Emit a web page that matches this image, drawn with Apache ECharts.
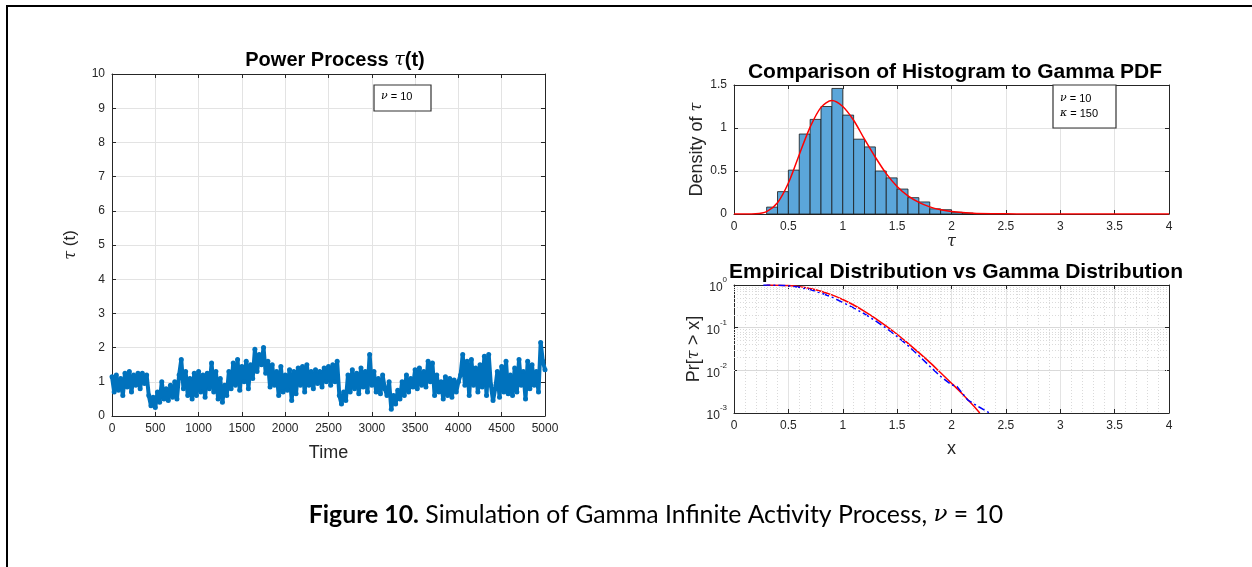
<!DOCTYPE html>
<html>
<head>
<meta charset="utf-8">
<script src="https://cdn.jsdelivr.net/npm/echarts@6/dist/echarts.min.js"></script>
<style>
  html, body { margin: 0; padding: 0; background: #fff; }
  #main { width: 1252px; height: 567px; }
</style>
</head>
<body>
<div id="main"></div>
<script>
(function () {

  // power process tau(t), one reading every 25 time units (0..5000)
  var timeStep = 25;
  var tauValues = [
    1.15, 0.7, 1.2, 0.75, 1.1,
    0.6, 1.25, 0.85, 1.3, 0.7, 1.2, 0.9, 1.25, 0.8, 1.25, 0.95, 1.2,
    0.6, 0.3, 0.55, 0.25,
    0.7, 0.4, 1.0, 0.5, 0.8, 0.45, 0.9, 0.55, 1.0, 0.5, 1.2,
    1.65, 0.8, 1.3, 0.6, 1.1, 0.5, 1.25, 0.6, 1.3,
    0.7, 1.2, 0.55, 1.25, 0.8, 1.55, 0.7, 1.3, 0.5, 1.1, 0.4, 0.9,
    0.6, 1.3, 0.8, 1.55, 0.9, 1.65, 0.75, 1.45, 1.0, 1.6, 0.8, 1.5, 1.1,
    1.95, 1.3, 1.8, 1.5, 2.0, 1.25, 1.6,
    0.85, 1.5, 0.9, 1.3, 0.6, 1.45, 0.7, 1.2,
    0.75, 1.35, 0.45, 1.3, 0.65, 1.4, 0.9, 1.45,
    0.7, 1.5, 0.9, 1.3, 0.8, 1.35, 0.95, 1.3, 0.85, 1.4, 1.0, 1.45, 0.9, 1.5, 1.0, 1.6,
    0.6, 0.35, 0.7, 0.45,
    1.2, 0.7, 1.35, 0.8, 1.25, 0.65, 1.4, 0.85, 1.3, 0.7, 1.8, 0.9,
    1.3, 0.7, 1.1, 0.65, 1.2, 0.8, 0.6, 1.0,
    0.2, 0.6, 0.35, 0.75,
    0.5, 1.0, 0.6, 1.2, 0.7, 1.1, 0.85, 1.35,
    0.8, 1.4, 0.9, 1.3, 0.85, 1.6, 1.0, 1.55,
    0.6, 1.2, 0.7, 1.0, 0.5, 1.15, 0.6, 1.1, 0.55, 1.05, 0.7, 1.0,
    1.2, 1.8, 0.9, 1.6,
    0.6, 1.65, 0.9, 1.4, 0.7, 1.5, 0.85, 1.75, 0.6, 1.8, 0.9, 0.45,
    0.8, 1.3, 0.55, 1.45, 0.7, 1.6, 0.65, 1.2,
    0.6, 1.4, 0.7, 1.65, 0.9, 1.3, 0.5, 1.6, 0.8, 1.5, 0.9, 1.3,
    0.7, 2.15, 1.6, 1.35
  ];

  // histogram of tau
  var binEdges = [0.3, 0.4, 0.5, 0.6, 0.7, 0.8, 0.9, 1.0, 1.1, 1.2, 1.3, 1.4, 1.5, 1.6, 1.7, 1.8, 1.9, 2.0, 2.1, 2.2];
  var binDensity = [0.08, 0.26, 0.51, 0.93, 1.10, 1.25, 1.46, 1.15, 0.87, 0.78, 0.50, 0.42, 0.29, 0.19, 0.14, 0.06, 0.05, 0.02, 0.01];

  // gamma pdf (red curve)
  var pdfX = [0, 0.1, 0.2, 0.3, 0.4, 0.5, 0.6, 0.7, 0.8, 0.9, 1.0, 1.1, 1.2, 1.3, 1.4, 1.5, 1.6, 1.7, 1.8, 1.9, 2.0, 2.2, 2.4, 2.6, 3.0, 4.0];
  var pdfY = [0, 0, 0.002, 0.027, 0.13, 0.36, 0.69, 1.01, 1.24, 1.32, 1.25, 1.09, 0.87, 0.66, 0.47, 0.32, 0.21, 0.135, 0.083, 0.05, 0.029, 0.009, 0.003, 0.001, 0, 0];

  // tail probabilities Pr[tau > x]
  var survX = [0.3, 0.4, 0.5, 0.6, 0.7, 0.8, 0.9, 1.0, 1.1, 1.2, 1.3, 1.4, 1.5, 1.6, 1.7, 1.8, 1.9, 2.0, 2.1, 2.2, 2.26];
  var gammaSurv = [0.999, 0.992, 0.968, 0.916, 0.83, 0.717, 0.587, 0.458, 0.34, 0.242, 0.166, 0.109, 0.07, 0.043, 0.026, 0.0154, 0.0088, 0.005, 0.0028, 0.0015, 0.001];
  var empX = [0.27, 0.4, 0.5, 0.6, 0.7, 0.8, 0.9, 1.0, 1.1, 1.2, 1.3, 1.4, 1.5, 1.6, 1.7, 1.8, 1.9, 2.0, 2.05, 2.15, 2.25, 2.35];
  var empSurv = [1.0, 0.99, 0.96, 0.89, 0.78, 0.65, 0.52, 0.39, 0.29, 0.21, 0.145, 0.097, 0.062, 0.038, 0.022, 0.0125, 0.0072, 0.0046, 0.0042, 0.002, 0.0014, 0.001];
  var logMinor = [0.002, 0.003, 0.004, 0.005, 0.006, 0.007, 0.008, 0.009,
                  0.02, 0.03, 0.04, 0.05, 0.06, 0.07, 0.08, 0.09,
                  0.2, 0.3, 0.4, 0.5, 0.6, 0.7, 0.8, 0.9];

  var font = 'Liberation Sans, Arial, sans-serif';
  var ink = '#262626';
  var gridGray = '#e3e3e3';

  function pairs(xs, ys) {
    var out = [];
    for (var i = 0; i < xs.length; i++) {
      out.push([xs[i], ys[i]]);
    }
    return out;
  }

  var tauData = [];
  for (var i = 0; i < tauValues.length; i++) {
    tauData.push([i * timeStep, tauValues[i]]);
  }

  var histData = [];
  for (var b = 0; b < binDensity.length; b++) {
    histData.push([binEdges[b], binEdges[b + 1], binDensity[b]]);
  }

  function plainNum(v) { return String(v); }

  // main axis with labels and grid
  function mainAxis(gi, pos, min, max, interval, name, nameGap, extra) {
    var ax = {
      type: 'value', gridIndex: gi, position: pos, min: min, max: max, interval: interval,
      name: name, nameLocation: 'middle', nameGap: nameGap,
      nameTextStyle: { fontFamily: font, fontSize: 18, color: ink },
      axisLine: { show: true, onZero: false, lineStyle: { color: ink, width: 1 } },
      axisTick: { show: true, inside: true, length: 4, lineStyle: { color: ink } },
      axisLabel: { fontFamily: font, fontSize: 12, color: ink, margin: 7, formatter: plainNum },
      splitLine: { show: true, lineStyle: { color: gridGray, width: 1 } }
    };
    for (var k in extra) { ax[k] = extra[k]; }
    return ax;
  }

  // mirror axis for the top / right side of the box
  function boxAxis(gi, pos, min, max, interval, extra) {
    var ax = {
      type: 'value', gridIndex: gi, position: pos, min: min, max: max, interval: interval,
      axisLine: { show: true, onZero: false, lineStyle: { color: ink, width: 1 } },
      axisTick: { show: true, inside: true, length: 4, lineStyle: { color: ink } },
      axisLabel: { show: false },
      splitLine: { show: false }
    };
    for (var k in extra) { ax[k] = extra[k]; }
    return ax;
  }

  var logLabel = {
    fontFamily: font, fontSize: 12, color: ink, margin: 7,
    formatter: function (v) {
      var e = Math.round(Math.log10(v));
      return '{b|10}{s|' + e + '}';
    },
    rich: {
      b: { fontFamily: font, fontSize: 12, color: ink, lineHeight: 18, verticalAlign: 'bottom' },
      s: { fontFamily: font, fontSize: 8, color: ink, lineHeight: 18, verticalAlign: 'top' }
    }
  };

  var minorLines = [];
  for (var m = 0; m < logMinor.length; m++) {
    minorLines.push({ yAxis: logMinor[m] });
  }

  var tauRich = { i: { fontFamily: 'DejaVu Serif', fontStyle: 'italic', fontSize: 16, color: ink } };

  var myChart = echarts.init(document.getElementById('main'), null, { renderer: 'canvas' });

  var option = {
    animation: false,
    backgroundColor: '#fff',
    title: [
      {
        text: 'Power Process {i|τ}(t)', left: 330, top: 45, textAlign: 'center',
        textStyle: { fontFamily: font, fontSize: 20, fontWeight: 'bold', color: '#000',
          rich: { i: { fontFamily: 'DejaVu Serif', fontStyle: 'italic', fontSize: 19, fontWeight: 'normal', color: '#000' } } }
      },
      {
        text: 'Comparison of Histogram to Gamma PDF', left: 950, top: 57, textAlign: 'center',
        textStyle: { fontFamily: font, fontSize: 21, fontWeight: 'bold', color: '#000' }
      },
      {
        text: 'Empirical Distribution vs Gamma Distribution', left: 951, top: 257, textAlign: 'center',
        textStyle: { fontFamily: font, fontSize: 21, fontWeight: 'bold', color: '#000' }
      },
      {
        text: '{b|Figure 10.} Simulation of Gamma Infinite Activity Process, {m|ν} = 10',
        left: 651, top: 498, textAlign: 'center',
        textStyle: { fontFamily: 'Lato, sans-serif', fontSize: 24.8, fontWeight: 'normal', color: '#000',
          rich: {
            b: { fontFamily: 'Lato, sans-serif', fontSize: 24.8, fontWeight: 'bold', color: '#000' },
            m: { fontFamily: 'DejaVu Serif', fontStyle: 'italic', fontSize: 23, color: '#000' }
          } }
      }
    ],
    grid: [
      { left: 112, top: 74, width: 433, height: 342, show: false },
      { left: 734, top: 85, width: 435, height: 129, show: false },
      { left: 734, top: 285, width: 435, height: 128, show: false }
    ],
    xAxis: [
      mainAxis(0, 'bottom', 0, 5000, 500, 'Time', 28, {}),
      boxAxis(0, 'top', 0, 5000, 500, {}),
      mainAxis(1, 'bottom', 0, 4, 0.5, 'τ', 18, {
        nameTextStyle: { fontFamily: 'DejaVu Serif', fontStyle: 'italic', fontSize: 16, color: ink }
      }),
      boxAxis(1, 'top', 0, 4, 0.5, {}),
      mainAxis(2, 'bottom', 0, 4, 0.5, 'x', 27, {
        minorTick: { show: false, splitNumber: 5 },
        minorSplitLine: { show: true, lineStyle: { color: '#dadada', type: [1, 2], width: 1 } }
      }),
      boxAxis(2, 'top', 0, 4, 0.5, {})
    ],
    yAxis: [
      mainAxis(0, 'left', 0, 10, 1, '{i|τ} (t)', 33, {
        nameTextStyle: { fontFamily: font, fontSize: 17, color: ink, rich: tauRich }
      }),
      boxAxis(0, 'right', 0, 10, 1, {}),
      mainAxis(1, 'left', 0, 1.5, 0.5, 'Density of {i|τ}', 28, {
        nameTextStyle: { fontFamily: font, fontSize: 18, color: ink, rich: tauRich }
      }),
      boxAxis(1, 'right', 0, 1.5, 0.5, {}),
      {
        type: 'log', logBase: 10, gridIndex: 2, position: 'left', min: 0.001, max: 1,
        name: 'Pr[{i|τ} > x]', nameLocation: 'middle', nameGap: 30,
        nameTextStyle: { fontFamily: font, fontSize: 18, color: ink, rich: tauRich },
        axisLine: { show: true, onZero: false, lineStyle: { color: ink, width: 1 } },
        axisTick: { show: true, inside: true, length: 4, lineStyle: { color: ink } },
        axisLabel: logLabel,
        splitLine: { show: true, lineStyle: { color: '#d9d9d9', width: 1 } }
      },
      {
        type: 'log', logBase: 10, gridIndex: 2, position: 'right', min: 0.001, max: 1,
        axisLine: { show: true, onZero: false, lineStyle: { color: ink, width: 1 } },
        axisTick: { show: true, inside: true, length: 4, lineStyle: { color: ink } },
        axisLabel: { show: false },
        splitLine: { show: false }
      }
    ],
    series: [
      {
        name: 'tau', type: 'line', xAxisIndex: 0, yAxisIndex: 0,
        data: tauData,
        showSymbol: true, showAllSymbol: true, symbol: 'circle', symbolSize: 5,
        itemStyle: { color: '#0072BD' },
        lineStyle: { color: '#0072BD', width: 4 },
        z: 3
      },
      {
        name: 'hist', type: 'custom', xAxisIndex: 2, yAxisIndex: 2,
        data: histData,
        encode: { x: [0, 1], y: 2 },
        renderItem: function (params, api) {
          var p0 = api.coord([api.value(0), api.value(2)]);
          var p1 = api.coord([api.value(1), 0]);
          return {
            type: 'rect',
            shape: { x: p0[0], y: p0[1], width: p1[0] - p0[0], height: p1[1] - p0[1] },
            style: { fill: '#5BA6DA', stroke: '#1a1a1a', lineWidth: 0.8 }
          };
        },
        z: 2
      },
      {
        name: 'pdf', type: 'line', xAxisIndex: 2, yAxisIndex: 2,
        data: pairs(pdfX, pdfY), smooth: 0.3, showSymbol: false,
        lineStyle: { color: '#ff0000', width: 1.5 },
        z: 4
      },
      {
        name: 'gamma', type: 'line', xAxisIndex: 4, yAxisIndex: 4,
        data: pairs(survX, gammaSurv), smooth: 0.3, showSymbol: false,
        lineStyle: { color: '#ff0000', width: 1.5 },
        markLine: {
          silent: true, symbol: 'none', label: { show: false },
          lineStyle: { color: '#dadada', type: [1, 2], width: 1 },
          data: minorLines
        },
        z: 4
      },
      {
        name: 'empirical', type: 'line', xAxisIndex: 4, yAxisIndex: 4,
        data: pairs(empX, empSurv), showSymbol: false,
        lineStyle: { color: '#0000ff', width: 1.5, type: [7, 3, 2, 3] },
        z: 4
      }
    ],
    graphic: [
      // page frame
      { type: 'line', shape: { x1: 6, y1: 6, x2: 1252, y2: 6 }, style: { stroke: '#000', lineWidth: 2 } },
      { type: 'line', shape: { x1: 7, y1: 5, x2: 7, y2: 567 }, style: { stroke: '#000', lineWidth: 2 } },
      // parameter boxes
      { type: 'rect', shape: { x: 374, y: 85, width: 57, height: 26 }, style: { fill: '#fff', stroke: '#333', lineWidth: 1.2 }, z: 10 },
      { type: 'text', left: 381, top: 91, z: 11,
        style: { text: '{i|ν} = 10', fontFamily: font, fontSize: 11, fill: '#000',
          rich: { i: { fontFamily: 'DejaVu Serif', fontStyle: 'italic', fontSize: 11, fill: '#000' } } } },
      { type: 'rect', shape: { x: 1053, y: 85, width: 63, height: 43 }, style: { fill: '#fff', stroke: '#333', lineWidth: 1.2 }, z: 10 },
      { type: 'text', left: 1060, top: 91, z: 11,
        style: { text: '{i|ν} = 10\n{i|κ} = 150', fontFamily: font, fontSize: 11, lineHeight: 15, fill: '#000',
          rich: { i: { fontFamily: 'DejaVu Serif', fontStyle: 'italic', fontSize: 11, lineHeight: 15, fill: '#000' } } } }
    ]
  };

  myChart.setOption(option);

})();
</script>
</body>
</html>
